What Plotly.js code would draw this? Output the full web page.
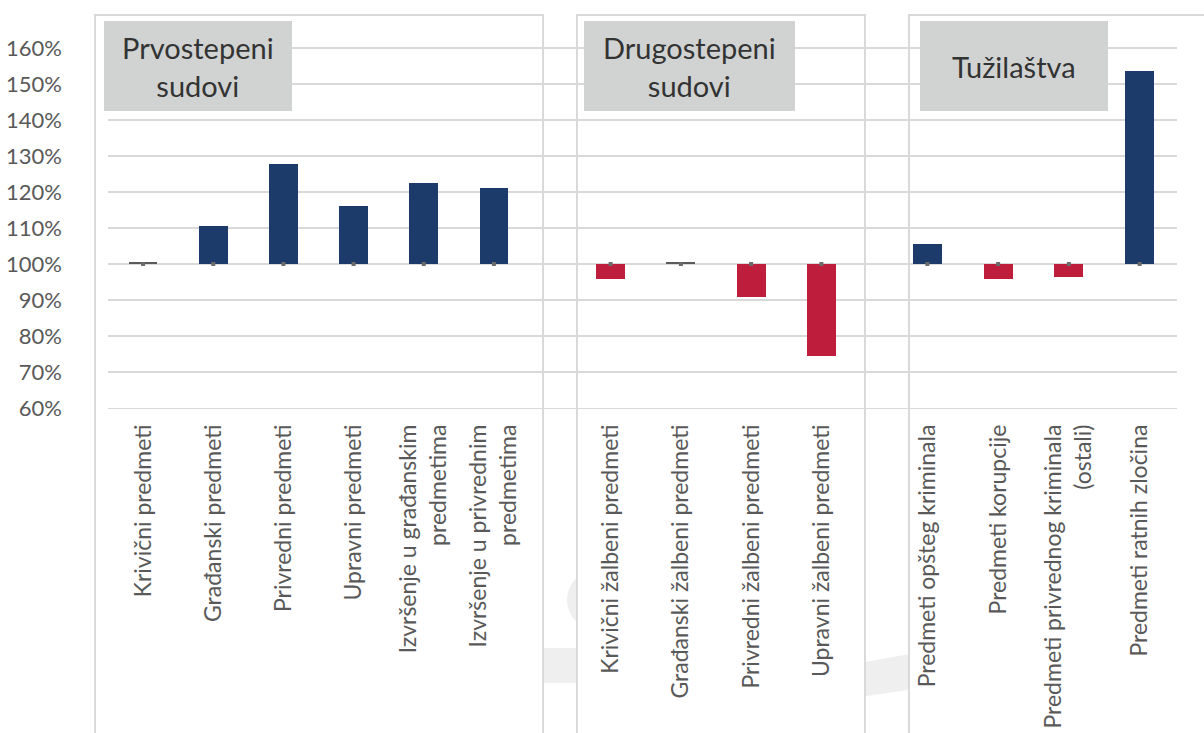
<!DOCTYPE html>
<html>
<head>
<meta charset="utf-8">
<script src="https://cdn.plot.ly/plotly-3.0.1.min.js"></script>
<style>html,body{margin:0;padding:0;background:#fff;}#chart{width:1204px;height:733px;}</style>
</head>
<body>
<div id="chart"></div>
<script>
// ---- data ----
const cats1 = ['Krivični predmeti', 'Građanski predmeti', 'Privredni predmeti', 'Upravni predmeti',
  'Izvršenje u građanskim<br>predmetima', 'Izvršenje u privrednim<br>predmetima'];
const vals1 = [100.5, 110.6, 127.8, 116.1, 122.5, 121.1];

const cats2 = ['Krivični žalbeni predmeti', 'Građanski žalbeni predmeti', 'Privredni žalbeni predmeti', 'Upravni žalbeni predmeti'];
const vals2 = [95.9, 100.5, 90.9, 74.5];

const cats3 = ['Predmeti opšteg kriminala', 'Predmeti korupcije', 'Predmeti privrednog kriminala<br>(ostali)', 'Predmeti ratnih zločina'];
const vals3 = [105.6, 95.9, 96.5, 153.6];

const panelTitles = ['Prvostepeni<br>sudovi', 'Drugostepeni<br>sudovi', 'Tužilaštva'];
const baseline = 100;
const yTicks = [60, 70, 80, 90, 100, 110, 120, 130, 140, 150, 160];
const yTickText = ['60%', '70%', '80%', '90%', '100%', '110%', '120%', '130%', '140%', '150%', '160%'];

// ---- style ----
const NAVY = '#1c3a6a', RED = '#be1e3c', GREY = '#5a5a5a';
const FONT = 'Lato, "Open Sans", sans-serif';
const TXT = '#595959';
const GRID = '#d9d9d9';

function colorFor(v) {
  if (Math.abs(v - baseline) < 1) return GREY;
  return v > baseline ? NAVY : RED;
}

const groups = [
  {cats: cats1, vals: vals1, xa: 'x2'},
  {cats: cats2, vals: vals2, xa: 'x3'},
  {cats: cats3, vals: vals3, xa: 'x4'}
];

const traces = [{x: [], y: [], type: 'scatter', xaxis: 'x', yaxis: 'y', showlegend: false, hoverinfo: 'skip'}];
groups.forEach(g => {
  traces.push({
    type: 'bar', x: g.cats, y: g.vals.map(v => v - baseline), base: baseline,
    xaxis: g.xa, yaxis: 'y', width: 0.41,
    marker: {color: g.vals.map(colorFor), line: {width: 0}},
    showlegend: false, hoverinfo: 'x+text', text: g.vals.map(v => v + '%'), textposition: 'none'
  });
  traces.push({
    type: 'scatter', mode: 'markers', x: g.cats, y: g.cats.map(() => baseline),
    xaxis: g.xa, yaxis: 'y', marker: {symbol: 'square', size: 4, color: '#6b6b6b'},
    showlegend: false, hoverinfo: 'skip'
  });
});

// pixel helpers for decorative layout (plot area: x 108..1177, y 16..408)
const L = 108, R = 27, T = 16, B = 325, W = 1204, H = 733;
const PW = W - L - R, PH = H - T - B;
const px = x => (x - L) / PW;
const py = y => (H - B - y) / PH;

const xCommon = {
  type: 'category', anchor: 'y', tickangle: -90, showgrid: false, zeroline: false, showline: false,
  ticks: '', ticklabelstandoff: 11, tickfont: {family: FONT, size: 23, color: TXT}, fixedrange: true
};

const shapes = [];
// faint watermark pieces
shapes.push({type: 'rect', xref: 'paper', yref: 'paper', x0: px(540), x1: px(580), y0: py(683), y1: py(648),
  fillcolor: '#efefef', line: {width: 0}, layer: 'below'});
shapes.push({type: 'circle', xref: 'paper', yref: 'paper', x0: px(567), x1: px(640), y0: py(633), y1: py(567),
  fillcolor: '#efefef', line: {width: 0}, layer: 'below'});
shapes.push({type: 'path', xref: 'paper', yref: 'paper',
  path: `M ${px(860)} ${py(663)} L ${px(915)} ${py(653)} L ${px(915)} ${py(689)} L ${px(860)} ${py(697)} Z`,
  fillcolor: '#efefef', line: {width: 0}, layer: 'below'});
// panel frames
[[95, 543], [577, 865], [909, 1215]].forEach(p => {
  shapes.push({type: 'rect', xref: 'paper', yref: 'paper', x0: px(p[0]), x1: px(p[1]), y0: py(760), y1: py(15),
    fillcolor: '#ffffff', line: {color: GRID, width: 2}, layer: 'below'});
});
// title boxes
const boxes = [[104, 292], [584, 795], [920, 1108]];
const annotations = [];
boxes.forEach((b, i) => {
  shapes.push({type: 'rect', xref: 'paper', yref: 'paper', x0: px(b[0]), x1: px(b[1]), y0: py(111), y1: py(21),
    fillcolor: '#d1d3d2', line: {width: 0}, layer: 'above'});
  annotations.push({xref: 'paper', yref: 'paper', x: px((b[0] + b[1]) / 2), y: py(67),
    xanchor: 'center', yanchor: 'middle', text: panelTitles[i], showarrow: false,
    font: {family: FONT, size: 29, color: '#333333'}});
});

const layout = {
  width: W, height: H,
  margin: {l: L, r: R, t: T, b: B},
  paper_bgcolor: '#ffffff', plot_bgcolor: 'rgba(0,0,0,0)',
  bargap: 0, showlegend: false,
  xaxis: {domain: [0, 1], range: [0, 1], visible: true, showticklabels: false, showgrid: false, zeroline: false,
    showline: true, linecolor: GRID, linewidth: 1.3, ticks: '', anchor: 'y', fixedrange: true},
  xaxis2: Object.assign({}, xCommon, {domain: [px(108), px(529)]}),
  xaxis3: Object.assign({}, xCommon, {domain: [px(575.5), px(856.5)]}),
  xaxis4: Object.assign({}, xCommon, {domain: [px(892), px(1175)]}),
  yaxis: {range: [60, 60 + PH / 3.6], tickmode: 'array', tickvals: yTicks, ticktext: yTickText,
    showgrid: true, gridcolor: GRID, gridwidth: 1.3,
    zeroline: false, showline: false, ticks: '', ticklabelstandoff: 45, anchor: 'x',
    tickfont: {family: FONT, size: 22, color: TXT}, fixedrange: true},
  shapes: shapes,
  annotations: annotations
};

Plotly.newPlot('chart', traces, layout, {displayModeBar: false, staticPlot: true});
</script>
</body>
</html>
